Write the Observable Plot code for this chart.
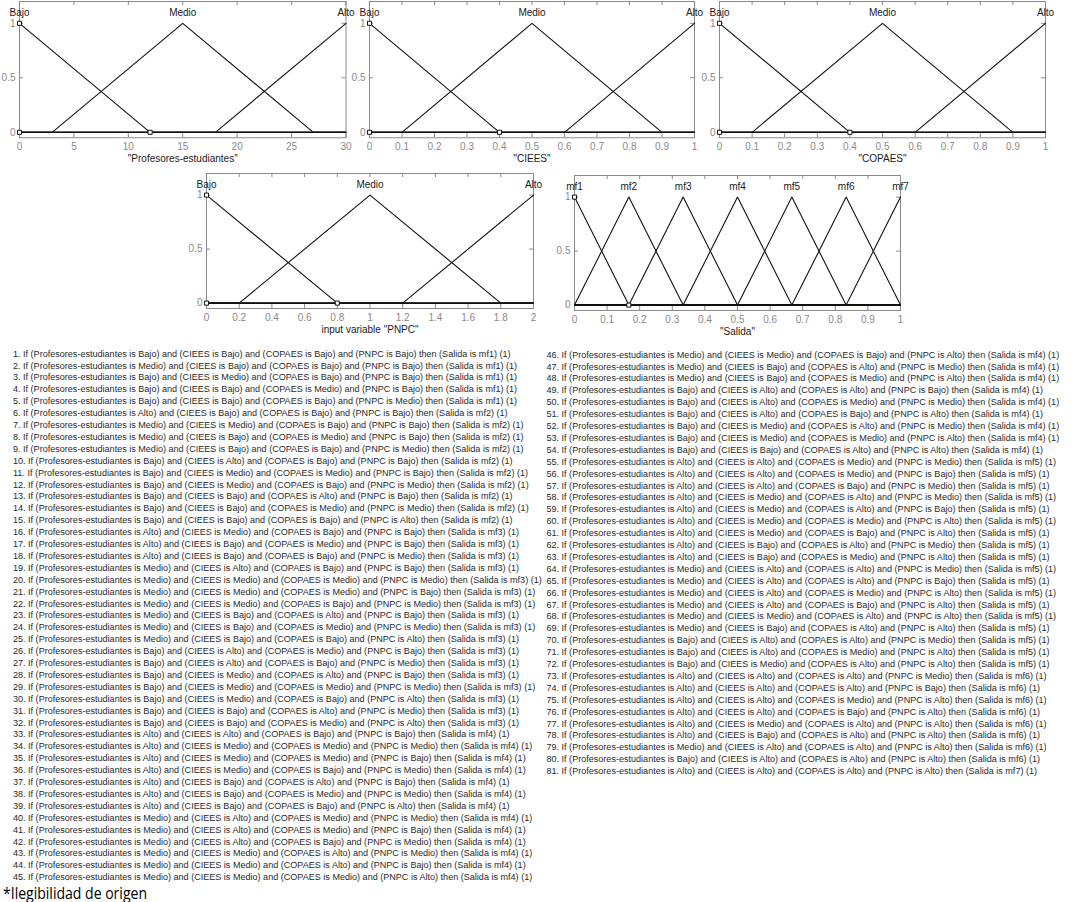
<!DOCTYPE html>
<html><head><meta charset="utf-8">
<script src="https://cdn.jsdelivr.net/npm/d3@7"></script>
<script src="https://cdn.jsdelivr.net/npm/@observablehq/plot@0.6"></script>
<style>
html,body{margin:0;padding:0;background:#fff}
body{width:1083px;height:902px;position:relative;overflow:hidden;font-family:"Liberation Sans",Arial,sans-serif}
.p{position:absolute}
#caption{position:absolute;left:3px;top:885px;font:16px/1 "Open Sans",sans-serif;color:#000;z-index:5;white-space:nowrap;transform-origin:0 50%}
</style></head><body>
<div id="caption">*Ilegibilidad de origen</div>
<script>
// ---------------- data ----------------
const inNames = ["Bajo", "Medio", "Alto"];
const outNames = ["mf1", "mf2", "mf3", "mf4", "mf5", "mf6", "mf7"];
// triangular membership function parameters [a, b, c]
const peParams = [[-12, 0, 12], [3, 15, 27], [18, 30, 42]];
const cieesParams = [[-0.4, 0, 0.4], [0.1, 0.5, 0.9], [0.6, 1, 1.4]];
const copaesParams = [[-0.4, 0, 0.4], [0.1, 0.5, 0.9], [0.6, 1, 1.4]];
const pnpcParams = [[-0.8, 0, 0.8], [0.2, 1, 1.8], [1.2, 2, 2.8]];
const salidaParams = [[-0.1667, 0, 0.1667], [0, 0.1667, 0.3333], [0.1667, 0.3333, 0.5], [0.3333, 0.5, 0.6667], [0.5, 0.6667, 0.8333], [0.6667, 0.8333, 1], [0.8333, 1, 1.1667]];
// tick labels
const peTicks = [0, 5, 10, 15, 20, 25, 30];
const unitTicks = [0, 0.1, 0.2, 0.3, 0.4, 0.5, 0.6, 0.7, 0.8, 0.9, 1];
const pnpcTicks = [0, 0.2, 0.4, 0.6, 0.8, 1, 1.2, 1.4, 1.6, 1.8, 2];
const yTicks = [0, 0.5, 1];
// selected-MF markers
const peMarks = [[0, 1], [0, 0], [12, 0]];
const unitMarks = [[0, 1], [0, 0], [0.4, 0]];
const pnpcMarks = [[0, 1], [0, 0], [0.8, 0]];
const salidaMarks = [[0, 1], [0.1667, 0]];
// rules: B = Bajo, M = Medio, A = Alto
const rulePE =     ("BMBBBAMMMB" + "BBBBBAAAMM" + "MMMMMBBBBB" + "BBAAAAAAAM" + "MMMMMMMMBB" + "BBBBAAAAAA" + "AAAMMMMMMB" + "BBAAAAAAMB" + "A").split("");
const ruleCIEES =  ("BBMBBBMBBA" + "MMBBBMBBAM" + "MMBBBAAMMM" + "BBAMMMBBBA" + "AAMMMMBBAA" + "AMMBAAAMMM" + "MBBAAAAMBA" + "AMAAAAMBAA" + "A").split("");
const ruleCOPAES = ("BBBMBBBMBB" + "MBAMBBMBBM" + "MBAMBMBAMB" + "AMBMMBAMBM" + "MBAAMBAMAM" + "BAMAMMBAAM" + "BAMAAMBAAA" + "MAAAMBAAAA" + "A").split("");
const rulePNPC =   ("BBBBMBBBMB" + "BMBMABBMBM" + "BMBMABMBMA" + "MABMBMBMAM" + "BMMBAAMABM" + "AMAAMBMMBA" + "AMAMBAAAAM" + "AAMBAAAAAA" + "A").split("");
const ruleOut =    ("11111" + "2222222222" + "33333333333333333" + "4444444444444444444444" + "555555555555555555" + "66666666" + "7").split("").map(Number);

// ---------------- helpers ----------------
const word = {B: "Bajo", M: "Medio", A: "Alto"};
function trimfPoints(p, lo, hi) {
  const [a, b, c] = p;
  const mu = x => Math.max(0, Math.min((x - a) / (b - a), (c - x) / (c - b)));
  const xs = Array.from(new Set([lo, a, b, c, hi])).filter(x => x >= lo && x <= hi).sort((u, v) => u - v);
  return xs.map(x => ({x, y: mu(x)}));
}
const FONT = "Liberation Sans, Arial, sans-serif";
const GRAY = "#8a8a8a";
const fmt = d => `${d}`;

function mfPanel({names, params, domain, ticks, marks, title, L, W, y1, u}) {
  const mL = 26, mR = 16, mT = 2, mB = 34;
  const innerH = 1.25 * u;
  const frameTop = y1 - 0.2 * u;
  const lines = params.flatMap((p, i) => trimfPoints(p, domain[0], domain[1]).map(d => ({...d, mf: i})));
  const labels = params.map((p, i) => ({x: p[1], y: 1.1, t: names[i]}));
  const tk = 4;
  const plot = Plot.plot({
    width: W + mL + mR, height: innerH + mT + mB,
    marginLeft: mL, marginRight: mR, marginTop: mT, marginBottom: mB,
    style: {fontFamily: FONT, background: "transparent", maxWidth: "none", overflow: "visible"},
    x: {domain},
    y: {domain: [-0.05, 1.2]},
    marks: [
      Plot.frame({stroke: GRAY}),
      Plot.tickX(ticks, {x: d => d, stroke: GRAY, insetTop: innerH - tk}),
      Plot.tickX(ticks, {x: d => d, stroke: GRAY, insetBottom: innerH - tk}),
      Plot.tickY(yTicks, {y: d => d, stroke: GRAY, insetRight: W - tk}),
      Plot.tickY(yTicks, {y: d => d, stroke: GRAY, insetLeft: W - tk}),
      Plot.axisX(ticks, {tickSize: 0, tickPadding: 5, fontSize: 10, fill: GRAY, label: null, tickFormat: fmt}),
      Plot.axisY(yTicks, {tickSize: 0, tickPadding: 4, fontSize: 10, fill: GRAY, label: null, tickFormat: fmt}),
      Plot.ruleY([0], {stroke: "#111", strokeWidth: 1.6}),
      Plot.line(lines, {x: "x", y: "y", z: "mf", stroke: "#111", strokeWidth: 1.1}),
      Plot.dot(marks, {x: d => d[0], y: d => d[1], symbol: "square", r: 2.3, fill: "white", stroke: "#111", strokeWidth: 1}),
      Plot.text(labels, {x: "x", y: "y", text: "t", fontSize: 10, fill: "#1a1a1a"}),
      Plot.text([title], {frameAnchor: "bottom", dy: 24, fontSize: 10, fill: "#1a1a1a"})
    ]
  });
  const div = document.createElement("div");
  div.className = "p";
  div.style.left = (L - mL) + "px";
  div.style.top = (frameTop - mT) + "px";
  div.appendChild(plot);
  document.body.appendChild(div);
}

mfPanel({names: inNames, params: peParams, domain: [0, 30], ticks: peTicks, marks: peMarks, title: "\"Profesores-estudiantes\"", L: 18.5, W: 326.5, y1: 23, u: 109});
mfPanel({names: inNames, params: cieesParams, domain: [0, 1], ticks: unitTicks, marks: unitMarks, title: "\"CIEES\"", L: 368.5, W: 325, y1: 23, u: 109});
mfPanel({names: inNames, params: copaesParams, domain: [0, 1], ticks: unitTicks, marks: unitMarks, title: "\"COPAES\"", L: 719, W: 326, y1: 23, u: 109});
mfPanel({names: inNames, params: pnpcParams, domain: [0, 2], ticks: pnpcTicks, marks: pnpcMarks, title: "input variable \"PNPC\"", L: 206, W: 327, y1: 195, u: 108});
mfPanel({names: outNames, params: salidaParams, domain: [0, 1], ticks: unitTicks, marks: salidaMarks, title: "\"Salida\"", L: 574, W: 326, y1: 197, u: 108});

// ---------------- rules ----------------
const rules = ruleOut.map((o, k) => ({
  i: k + 1,
  t: `${k + 1}. If (Profesores-estudiantes is ${word[rulePE[k]]}) and (CIEES is ${word[ruleCIEES[k]]}) and (COPAES is ${word[ruleCOPAES[k]]}) and (PNPC is ${word[rulePNPC[k]]}) then (Salida is mf${o}) (1)`
}));
const STEP = 11.9;
function rulePanel(data, first, last, left, x0, top0) {
  const plot = Plot.plot({
    width: 560, height: 560, marginLeft: x0, marginRight: 0, marginTop: 0, marginBottom: 0,
    axis: null,
    style: {fontFamily: FONT, background: "transparent", maxWidth: "none", overflow: "visible"},
    y: {domain: [first, last], range: [top0, top0 + (last - first) * STEP]},
    marks: [Plot.text(data, {frameAnchor: "left", y: "i", text: "t", textAnchor: "start", lineAnchor: "middle", fontSize: 9.7, fill: "#2a2a2a"})]
  });
  const div = document.createElement("div");
  div.className = "p";
  div.style.left = left + "px";
  div.style.top = "340px";
  div.appendChild(plot);
  document.body.appendChild(div);
  return {plot, x0};
}
const leftCol = rulePanel(rules.filter(d => d.i <= 45), 1, 45, 0, 12.5, 13);
const rightCol = rulePanel(rules.filter(d => d.i > 45), 46, 81, 540, 6, 14);
// condense the rule text horizontally to the reference's width (rule 20 spans ~529px)
const ref = Array.from(leftCol.plot.querySelectorAll("text")).find(t => t.textContent.startsWith("20."));
const k = ref ? 529 / ref.getComputedTextLength() : 1;
for (const col of [leftCol, rightCol]) {
  const g = col.plot.querySelector('g[aria-label="text"]');
  const wrap = document.createElementNS("http://www.w3.org/2000/svg", "g");
  wrap.setAttribute("transform", `translate(${col.x0},0) scale(${k},1) translate(${-col.x0},0)`);
  g.parentNode.insertBefore(wrap, g);
  wrap.appendChild(g);
}
// caption: fit to the reference's width (~144px)
const cap = document.getElementById("caption");
const cw = cap.getBoundingClientRect().width;
if (cw > 0) cap.style.transform = `scaleX(${144 / cw})`;
</script>
</body></html>
